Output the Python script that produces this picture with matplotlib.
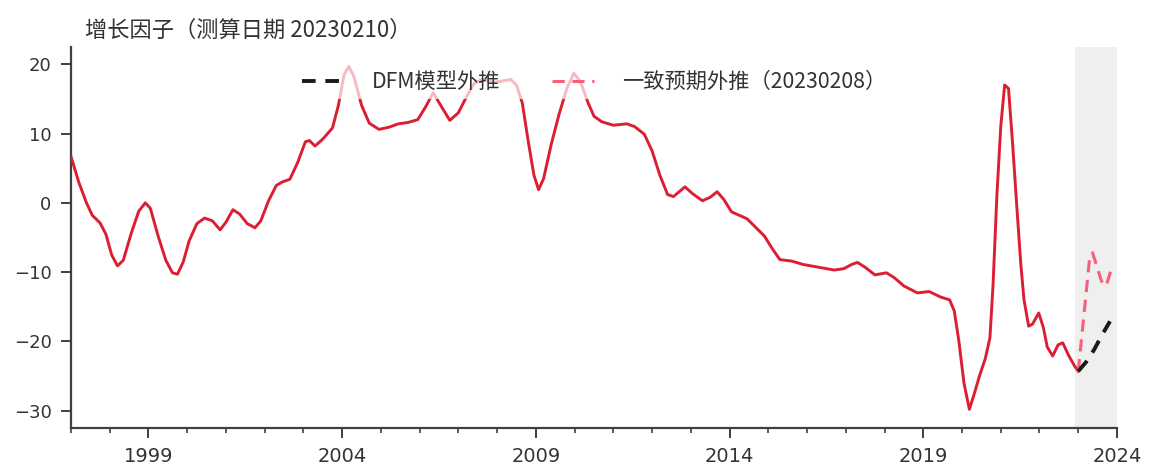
import matplotlib
matplotlib.use("Agg")
import matplotlib.pyplot as plt
from matplotlib.ticker import FixedLocator, MultipleLocator

plt.rcParams["font.family"] = ["Noto Sans CJK SC", "DejaVu Sans"]
plt.rcParams["axes.unicode_minus"] = True

# growth factor (decimal year, value)
years = [1997.0, 1997.2, 1997.4, 1997.55, 1997.75, 1997.9, 1998.05, 1998.2, 1998.35,
         1998.55, 1998.75, 1998.92, 1999.05, 1999.25, 1999.45, 1999.62, 1999.75, 1999.9,
         2000.05, 2000.25, 2000.45, 2000.65, 2000.85, 2001.0, 2001.18, 2001.35, 2001.55,
         2001.75, 2001.9, 2002.1, 2002.3, 2002.45, 2002.65, 2002.85, 2003.05, 2003.15,
         2003.3, 2003.5, 2003.75, 2003.9, 2004.05, 2004.17, 2004.3, 2004.5, 2004.7,
         2004.95, 2005.2, 2005.45, 2005.7, 2005.95, 2006.15, 2006.35, 2006.55, 2006.78,
         2007.0, 2007.2, 2007.4, 2007.6, 2007.9, 2008.15, 2008.35, 2008.5, 2008.65,
         2008.8, 2008.95, 2009.07, 2009.2, 2009.4, 2009.6, 2009.8, 2009.98, 2010.15,
         2010.35, 2010.5, 2010.7, 2011.0, 2011.35, 2011.55, 2011.8, 2012.0, 2012.2,
         2012.4, 2012.55, 2012.85, 2013.05, 2013.3, 2013.5, 2013.68, 2013.85, 2014.05,
         2014.25, 2014.45, 2014.65, 2014.9, 2015.1, 2015.3, 2015.6, 2015.9, 2016.3,
         2016.7, 2016.95, 2017.15, 2017.3, 2017.5, 2017.75, 2018.05, 2018.25, 2018.5,
         2018.85, 2019.15, 2019.45, 2019.68, 2019.8, 2019.92, 2020.05, 2020.19, 2020.32,
         2020.45, 2020.6, 2020.72, 2020.8, 2020.9, 2021.0, 2021.1, 2021.2, 2021.3,
         2021.42, 2021.52, 2021.6, 2021.72, 2021.82, 2021.98, 2022.1, 2022.2, 2022.34,
         2022.48, 2022.6, 2022.75, 2022.9, 2023.0]
values = [6.7, 3.0, 0.0, -1.8, -2.9, -4.5, -7.5, -9.1, -8.3,
          -4.5, -1.2, 0.0, -0.8, -4.8, -8.3, -10.1, -10.3, -8.5,
          -5.5, -3.0, -2.2, -2.6, -3.9, -2.8, -1.0, -1.6, -3.0,
          -3.6, -2.6, 0.3, 2.5, 3.0, 3.4, 5.8, 8.8, 9.0,
          8.2, 9.2, 10.8, 14.0, 18.5, 19.7, 18.3, 14.1, 11.5,
          10.6, 10.9, 11.4, 11.6, 12.0, 13.8, 15.9, 14.0, 11.9,
          13.0, 15.2, 17.2, 17.8, 17.4, 17.6, 17.8, 17.0, 14.4,
          9.0, 4.0, 1.9, 3.5, 8.5, 12.8, 16.5, 18.7, 17.5,
          14.4, 12.5, 11.7, 11.2, 11.4, 11.0, 9.9, 7.5, 4.0,
          1.2, 0.9, 2.3, 1.3, 0.3, 0.8, 1.6, 0.5, -1.3,
          -1.8, -2.3, -3.4, -4.8, -6.6, -8.2, -8.4, -8.9, -9.3,
          -9.7, -9.5, -8.9, -8.6, -9.3, -10.4, -10.1, -10.8, -12.0,
          -13.0, -12.8, -13.6, -14.0, -15.6, -20.0, -26.0, -29.8, -27.5,
          -25.0, -22.5, -19.5, -12.0, 1.0, 11.0, 17.0, 16.5, 9.0,
          -1.0, -9.0, -14.0, -17.8, -17.5, -15.9, -18.0, -20.8, -22.1,
          -20.5, -20.2, -22.0, -23.5, -24.3]

# extrapolations from the last actual point
dfm_years = [2023.0, 2023.2, 2023.41, 2023.6, 2023.82]
dfm_values = [-24.3, -23.0, -21.2, -19.2, -17.1]
cons_years = [2023.0, 2023.15, 2023.29, 2023.37, 2023.48, 2023.6, 2023.72, 2023.89]
cons_values = [-24.3, -16.0, -8.2, -7.2, -9.2, -11.3, -12.0, -8.9]

forecast_span = (2022.92, 2024.0)
major_years = [1999, 2004, 2009, 2014, 2019, 2024]

title = "增长因子（测算日期 20230210）"
dfm_label = "DFM模型外推"
cons_label = "一致预期外推（20230208）"

fig = plt.figure(figsize=(11.52, 4.74), dpi=100)
ax = fig.add_axes([0.0616, 0.097, 0.908, 0.804])

ax.axvspan(*forecast_span, color="#efefef", zorder=0, lw=0)
ax.plot(years, values, color="#dc1e32", lw=2.1, solid_joinstyle="round", zorder=3)
ax.plot(cons_years, cons_values, color="#f7607a", lw=2.2, dashes=(4, 2.5),
        label=cons_label, zorder=3)
ax.plot(dfm_years, dfm_values, color="#1a1a1a", lw=2.8, dashes=(3.5, 2.5),
        label=dfm_label, zorder=4)

ax.set_xlim(1997, 2024)
ax.set_ylim(-32.5, 22.5)
ax.xaxis.set_major_locator(FixedLocator(major_years))
ax.xaxis.set_minor_locator(MultipleLocator(1))
ax.yaxis.set_major_locator(FixedLocator([-30, -20, -10, 0, 10, 20]))

for side in ("top", "right"):
    ax.spines[side].set_visible(False)
for side in ("left", "bottom"):
    ax.spines[side].set_color("#404040")
    ax.spines[side].set_linewidth(1.6)

ax.tick_params(axis="both", which="major", direction="out", length=7, width=1.4,
               color="#404040", pad=7, labelcolor="#333333")
ax.tick_params(axis="x", which="minor", direction="out", length=3.5, width=1.2,
               color="#404040")
for lab in ax.get_xticklabels():
    lab.set_fontsize(14)
    lab.set_family("DejaVu Sans")
for lab in ax.get_yticklabels():
    lab.set_fontsize(13)
    lab.set_family("DejaVu Sans")

handles, labels = ax.get_legend_handles_labels()
leg = ax.legend(handles[::-1], labels[::-1], loc="center", bbox_to_anchor=(0.5, 0.908),
                ncol=2, frameon=True, framealpha=0.7, edgecolor="none",
                fontsize=15.3, handlelength=2.0, handletextpad=1.3, columnspacing=2.4,
                borderpad=0.3)
for t in leg.get_texts():
    t.set_color("#333333")

fig.text(85 / 1152, 1 - 30 / 474, title, fontsize=16, color="#333333",
         ha="left", va="center")

fig.savefig("out.png", dpi=100)
